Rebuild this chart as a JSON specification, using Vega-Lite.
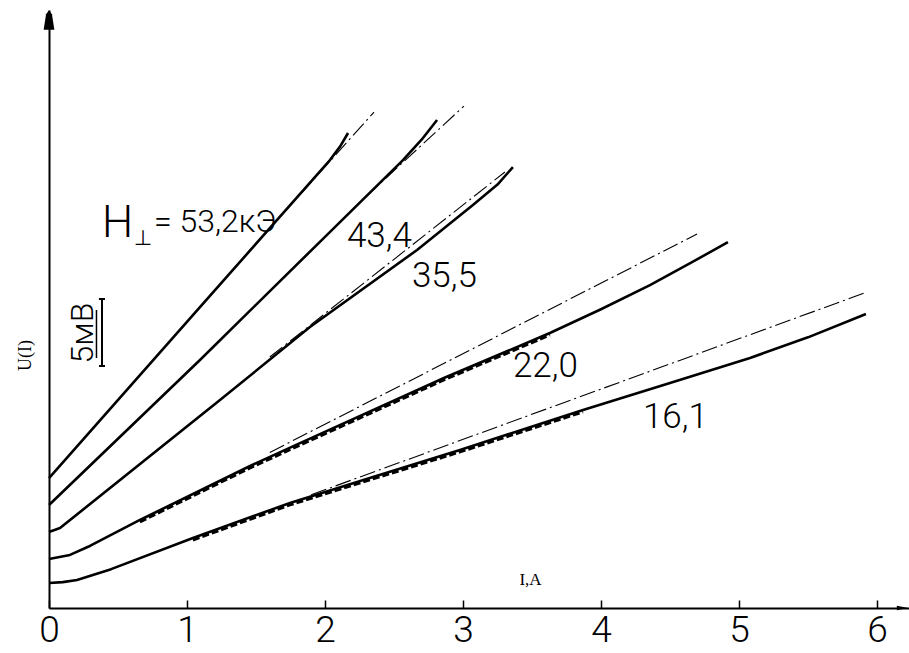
{
  "$schema": "https://vega.github.io/schema/vega-lite/v6.json",
  "width": 860,
  "height": 598,
  "autosize": "none",
  "padding": {"left": 49, "top": 10, "right": 0, "bottom": 45},
  "background": "white",
  "config": {"view": {"stroke": null}},
  "datasets": {
    "curves": [
      {"H": "53.2", "style": "solid", "I": 0, "U": 9.70},
      {"H": "53.2", "style": "solid", "I": 1.094, "U": 22.45},
      {"H": "53.2", "style": "solid", "I": 2.036, "U": 33.43},
      {"H": "53.2", "style": "solid", "I": 2.11, "U": 34.45},
      {"H": "53.2", "style": "solid", "I": 2.167, "U": 35.45},
      {"H": "43.4", "style": "solid", "I": 0, "U": 7.69},
      {"H": "43.4", "style": "solid", "I": 1.094, "U": 18.51},
      {"H": "43.4", "style": "solid", "I": 2.0, "U": 27.7},
      {"H": "43.4", "style": "solid", "I": 2.565, "U": 33.43},
      {"H": "43.4", "style": "solid", "I": 2.7, "U": 34.95},
      {"H": "43.4", "style": "solid", "I": 2.812, "U": 36.42},
      {"H": "35.5", "style": "solid", "I": 0, "U": 5.67},
      {"H": "35.5", "style": "solid", "I": 0.08, "U": 5.97},
      {"H": "35.5", "style": "solid", "I": 1.239, "U": 15.52},
      {"H": "35.5", "style": "solid", "I": 1.891, "U": 20.97},
      {"H": "35.5", "style": "solid", "I": 2.667, "U": 26.72},
      {"H": "35.5", "style": "solid", "I": 3.072, "U": 30.07},
      {"H": "35.5", "style": "solid", "I": 3.25, "U": 31.6},
      {"H": "35.5", "style": "solid", "I": 3.362, "U": 32.91},
      {"H": "22.0", "style": "solid", "I": 0, "U": 3.66},
      {"H": "22.0", "style": "solid", "I": 0.152, "U": 3.96},
      {"H": "22.0", "style": "solid", "I": 0.3, "U": 4.65},
      {"H": "22.0", "style": "solid", "I": 0.659, "U": 6.57},
      {"H": "22.0", "style": "solid", "I": 1.457, "U": 10.6},
      {"H": "22.0", "style": "solid", "I": 1.819, "U": 12.3},
      {"H": "22.0", "style": "solid", "I": 2.87, "U": 17.2},
      {"H": "22.0", "style": "solid", "I": 3.63, "U": 20.52},
      {"H": "22.0", "style": "solid", "I": 4.0, "U": 22.3},
      {"H": "22.0", "style": "solid", "I": 4.355, "U": 24.10},
      {"H": "22.0", "style": "solid", "I": 4.65, "U": 25.75},
      {"H": "22.0", "style": "solid", "I": 4.92, "U": 27.31},
      {"H": "16.1", "style": "solid", "I": 0, "U": 1.87},
      {"H": "16.1", "style": "solid", "I": 0.1, "U": 1.93},
      {"H": "16.1", "style": "solid", "I": 0.203, "U": 2.09},
      {"H": "16.1", "style": "solid", "I": 0.45, "U": 2.9},
      {"H": "16.1", "style": "solid", "I": 1.043, "U": 5.22},
      {"H": "16.1", "style": "solid", "I": 1.746, "U": 7.84},
      {"H": "16.1", "style": "solid", "I": 2.348, "U": 9.78},
      {"H": "16.1", "style": "solid", "I": 2.978, "U": 11.79},
      {"H": "16.1", "style": "solid", "I": 3.87, "U": 14.78},
      {"H": "16.1", "style": "solid", "I": 4.5, "U": 16.79},
      {"H": "16.1", "style": "solid", "I": 5.08, "U": 18.66},
      {"H": "16.1", "style": "solid", "I": 5.5, "U": 20.2},
      {"H": "16.1", "style": "solid", "I": 5.92, "U": 21.94},
      {"H": "53.2", "style": "dashdot", "I": 1.7, "U": 29.49},
      {"H": "53.2", "style": "dashdot", "I": 2.355, "U": 37.01},
      {"H": "43.4", "style": "dashdot", "I": 2.3, "U": 30.74},
      {"H": "43.4", "style": "dashdot", "I": 3.007, "U": 37.46},
      {"H": "35.5", "style": "dashdot", "I": 1.6, "U": 18.73},
      {"H": "35.5", "style": "dashdot", "I": 3.304, "U": 32.54},
      {"H": "22.0", "style": "dashdot", "I": 1.6, "U": 11.61},
      {"H": "22.0", "style": "dashdot", "I": 4.696, "U": 27.91},
      {"H": "16.1", "style": "dashdot", "I": 1.9, "U": 8.45},
      {"H": "16.1", "style": "dashdot", "I": 5.928, "U": 23.58},
      {"H": "22.0", "style": "dashed", "I": 0.659, "U": 6.42},
      {"H": "22.0", "style": "dashed", "I": 1.457, "U": 10.45},
      {"H": "22.0", "style": "dashed", "I": 1.819, "U": 12.15},
      {"H": "22.0", "style": "dashed", "I": 2.87, "U": 17.05},
      {"H": "22.0", "style": "dashed", "I": 3.63, "U": 20.37},
      {"H": "16.1", "style": "dashed", "I": 1.043, "U": 5.07},
      {"H": "16.1", "style": "dashed", "I": 1.746, "U": 7.69},
      {"H": "16.1", "style": "dashed", "I": 2.348, "U": 9.63},
      {"H": "16.1", "style": "dashed", "I": 2.978, "U": 11.64},
      {"H": "16.1", "style": "dashed", "I": 3.87, "U": 14.63}
    ],
    "curveLabels": [
      {"I": 2.159, "U": 26.94, "text": "43,4"},
      {"I": 2.630, "U": 23.96, "text": "35,5"},
      {"I": 3.362, "U": 17.24, "text": "22,0"},
      {"I": 4.304, "U": 13.43, "text": "16,1"}
    ],
    "hValue": [{"I": 0.76, "U": 28.06, "text": "= 53,2кЭ"}],
    "hLetter": [{"I": 0.384, "U": 27.69, "text": "H"}],
    "perp": [{"I": 0.681, "U": 27.09, "text": "⊥"}],
    "scaleText": [{"I": 0.246, "U": 20.52, "text": "5мВ"}],
    "scaleBar": [
      {"x": 0.384, "x2": 0.384, "y": 18.06, "y2": 23.06},
      {"x": 0.362, "x2": 0.406, "y": 23.06, "y2": 23.06},
      {"x": 0.362, "x2": 0.406, "y": 18.06, "y2": 18.06}
    ],
    "underline": [{"x": 0.344, "x2": 0.344, "y": 18.66, "y2": 22.24}],
    "arrowX": [{"I": 6.185, "U": 0}],
    "arrowY": [{"I": 0, "U": 43.88}]
  },
  "layer": [
    {
      "data": {"name": "curves"},
      "transform": [{"filter": "datum.style === 'dashdot'"}],
      "mark": {"type": "line", "color": "black", "strokeWidth": 1.1, "strokeDash": [16, 4, 2, 4]},
      "encoding": {
        "x": {"field": "I", "type": "quantitative", "scale": {"domain": [0, 6.232], "nice": false, "zero": false},
          "axis": {"values": [0, 1, 2, 3, 4, 5, 6], "format": "d", "title": "I,A", "titleX": 481, "titleY": -24,
            "titleFont": "Liberation Serif", "titleFontSize": 17, "titleFontWeight": "normal", "titleColor": "black",
            "titleBaseline": "alphabetic", "titleAlign": "center",
            "domainColor": "black", "domainWidth": 2, "tickColor": "black", "tickWidth": 1.5, "tickSize": -8,
            "labelFont": "Roboto", "labelFontWeight": 300, "labelFontSize": 37, "labelColor": "black",
            "labelPadding": 12, "labelBaseline": "top", "grid": false, "labelFlush": false}},
        "y": {"field": "U", "type": "quantitative", "scale": {"domain": [0, 44.63], "nice": false, "zero": false},
          "axis": {"labels": false, "ticks": false, "grid": false, "title": "U(I)", "titleX": -24, "titleY": 345,
            "titleFont": "Liberation Serif", "titleFontSize": 18, "titleFontWeight": "normal", "titleColor": "black",
            "titleAlign": "center", "titleBaseline": "middle", "titleAngle": -90,
            "domainColor": "black", "domainWidth": 2}},
        "detail": {"field": "H"}
      }
    },
    {
      "data": {"name": "curves"},
      "transform": [{"filter": "datum.style === 'dashed'"}],
      "mark": {"type": "line", "color": "black", "strokeWidth": 2.8, "strokeDash": [7, 3]},
      "encoding": {
        "x": {"field": "I", "type": "quantitative"},
        "y": {"field": "U", "type": "quantitative"},
        "detail": {"field": "H"}
      }
    },
    {
      "data": {"name": "curves"},
      "transform": [{"filter": "datum.style === 'solid'"}],
      "mark": {"type": "line", "color": "black", "strokeWidth": 2.6, "interpolate": "linear", "strokeJoin": "round"},
      "encoding": {
        "x": {"field": "I", "type": "quantitative"},
        "y": {"field": "U", "type": "quantitative"},
        "detail": {"field": "H"}
      }
    },
    {
      "data": {"name": "curveLabels"},
      "mark": {"type": "text", "align": "left", "baseline": "alphabetic", "font": "Roboto", "fontWeight": 300, "fontSize": 35, "color": "black"},
      "encoding": {
        "x": {"field": "I", "type": "quantitative"},
        "y": {"field": "U", "type": "quantitative"},
        "text": {"field": "text"}
      }
    },
    {
      "data": {"name": "hValue"},
      "mark": {"type": "text", "align": "left", "baseline": "alphabetic", "font": "Roboto", "fontWeight": 300, "fontSize": 32, "color": "black"},
      "encoding": {
        "x": {"field": "I", "type": "quantitative"},
        "y": {"field": "U", "type": "quantitative"},
        "text": {"field": "text"}
      }
    },
    {
      "data": {"name": "hLetter"},
      "mark": {"type": "text", "align": "left", "baseline": "alphabetic", "font": "Roboto", "fontWeight": 300, "fontSize": 44, "color": "black"},
      "encoding": {
        "x": {"field": "I", "type": "quantitative"},
        "y": {"field": "U", "type": "quantitative"},
        "text": {"field": "text"}
      }
    },
    {
      "data": {"name": "perp"},
      "mark": {"type": "text", "align": "center", "baseline": "alphabetic", "font": "DejaVu Sans", "fontSize": 21, "color": "black"},
      "encoding": {
        "x": {"field": "I", "type": "quantitative"},
        "y": {"field": "U", "type": "quantitative"},
        "text": {"field": "text"}
      }
    },
    {
      "data": {"name": "scaleText"},
      "mark": {"type": "text", "align": "center", "baseline": "middle", "angle": 270, "font": "Roboto", "fontWeight": 300, "fontSize": 32, "color": "black"},
      "encoding": {
        "x": {"field": "I", "type": "quantitative"},
        "y": {"field": "U", "type": "quantitative"},
        "text": {"field": "text"}
      }
    },
    {
      "data": {"name": "scaleBar"},
      "mark": {"type": "rule", "color": "black", "strokeWidth": 2},
      "encoding": {
        "x": {"field": "x", "type": "quantitative"},
        "x2": {"field": "x2"},
        "y": {"field": "y", "type": "quantitative"},
        "y2": {"field": "y2"}
      }
    },
    {
      "data": {"name": "underline"},
      "mark": {"type": "rule", "color": "black", "strokeWidth": 1.5},
      "encoding": {
        "x": {"field": "x", "type": "quantitative"},
        "x2": {"field": "x2"},
        "y": {"field": "y", "type": "quantitative"},
        "y2": {"field": "y2"}
      }
    },
    {
      "data": {"name": "arrowX"},
      "mark": {"type": "point", "filled": true, "color": "black", "opacity": 1, "shape": "M-1,-0.4L1,0L-1,0.4Z", "size": 130},
      "encoding": {
        "x": {"field": "I", "type": "quantitative"},
        "y": {"field": "U", "type": "quantitative"}
      }
    },
    {
      "data": {"name": "arrowY"},
      "mark": {"type": "point", "filled": true, "color": "black", "opacity": 1, "shape": "M-0.55,1L-0.3,-0.6L0,-1L0.3,-0.6L0.55,1Z", "size": 380},
      "encoding": {
        "x": {"field": "I", "type": "quantitative"},
        "y": {"field": "U", "type": "quantitative"}
      }
    }
  ]
}
